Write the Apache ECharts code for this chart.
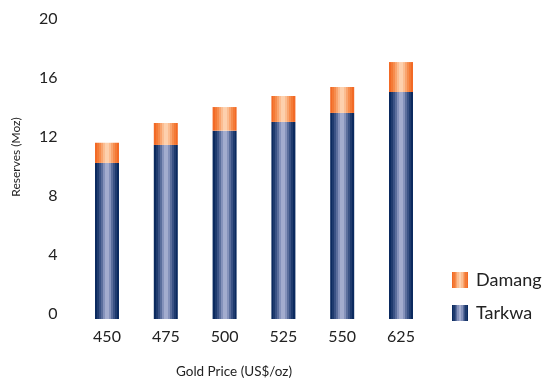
<!DOCTYPE html>
<html>
<head>
<meta charset="utf-8">
<script src="https://cdn.jsdelivr.net/npm/echarts@6/dist/echarts.min.js"></script>
<style>html,body{margin:0;padding:0;background:#fff}#c{width:546px;height:383px}</style>
</head>
<body>
<div id="c"></div>
<script>
var categories = ['450', '475', '500', '525', '550', '625'];
var tarkwa = [10.58, 11.80, 12.77, 13.36, 13.97, 15.39];
var damang = [1.37, 1.49, 1.60, 1.76, 1.76, 2.03];
var yTicks = [0, 4, 8, 12, 16, 20];

function bands(cols) {
  var n = cols.length, stops = [];
  for (var i = 0; i < n; i++) {
    stops.push({offset: i / n, color: cols[i]});
    stops.push({offset: (i + 1) / n - 0.0001, color: cols[i]});
  }
  return new echarts.graphic.LinearGradient(0, 0, 1, 0, stops);
}
var navy = ['#0b2a5f', '#1f3b6e', '#3a5285', '#5b6e9c', '#8592bb', '#a3acce', '#a3acce', '#8592bb', '#5b6e9c', '#3a5285', '#1f3b6e', '#0b2a5f'];
var orange = ['#f26a26', '#f47a36', '#f68c4d', '#f9a46e', '#fbbd91', '#fdd0ad', '#fdd0ad', '#fbbd91', '#f9a46e', '#f68c4d', '#f47a36', '#f26a26'];

var chart = echarts.init(document.getElementById('c'), null, {renderer: 'canvas'});
var font = 'Lato, "Noto Sans", sans-serif';
chart.setOption({
  animation: false,
  grid: {left: 77.6, right: 115.6, top: 24, bottom: 64},
  legend: {
    orient: 'vertical', left: 452, top: 271, padding: 0, itemWidth: 16, itemHeight: 16, itemGap: 15,
    icon: 'rect',
    data: ['Damang', 'Tarkwa'],
    textStyle: {fontFamily: font, fontSize: 18, color: '#222', padding: [0, 0, 0, 3]}
  },
  xAxis: {
    type: 'category', data: categories,
    axisLine: {show: false}, axisTick: {show: false},
    axisLabel: {fontFamily: font, fontSize: 16, color: '#222', margin: 10}
  },
  yAxis: {
    type: 'value', min: yTicks[0], max: yTicks[yTicks.length - 1], interval: 4,
    splitLine: {show: false}, axisLine: {show: false}, axisTick: {show: false},
    axisLabel: {fontFamily: font, fontSize: 16, color: '#222', margin: 20,
                verticalAlign: 'bottom', lineHeight: 10}
  },
  graphic: [
    {type: 'text', x: 16, y: 157, rotation: Math.PI / 2,
     style: {text: 'Reserves (Moz)', fontFamily: font, fontSize: 12, fill: '#222', align: 'center', verticalAlign: 'middle'}},
    {type: 'text', x: 234, y: 372,
     style: {text: 'Gold Price (US$/oz)', fontFamily: font, fontSize: 13.5, fill: '#222', align: 'center', verticalAlign: 'middle'}}
  ],
  series: [
    {name: 'Tarkwa', type: 'bar', stack: 'r', barWidth: 24, data: tarkwa,
     itemStyle: {color: bands(navy)}},
    {name: 'Damang', type: 'bar', stack: 'r', barWidth: 24, data: damang,
     itemStyle: {color: bands(orange)}}
  ]
});
</script>
</body>
</html>
